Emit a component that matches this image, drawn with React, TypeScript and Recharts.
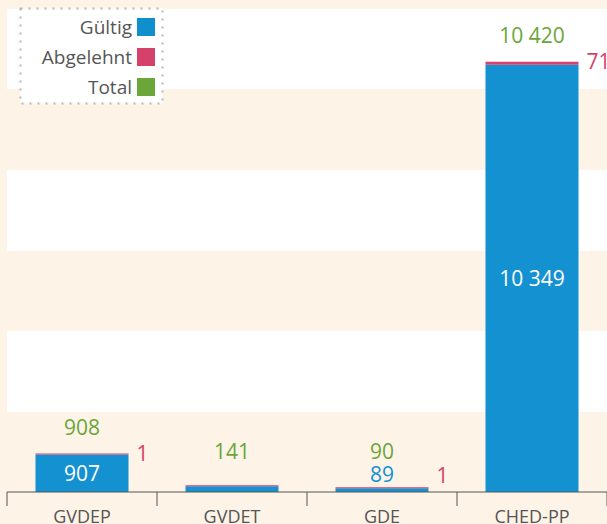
import React from 'react';
import { BarChart, Bar, XAxis, YAxis, CartesianGrid, LabelList } from 'recharts';

const categories = ['GVDEP', 'GVDET', 'GDE', 'CHED-PP'];
const gueltig = [907, 141, 89, 10349];
const abgelehnt = [1, 0, 1, 71];
const total = [908, 141, 90, 10420];
const yTicks = [0, 1950, 3900, 5850, 7800, 9750, 11700];

const legendNames = ['Gültig', 'Abgelehnt', 'Total'];
const legendColors = ['#0f8fcb', '#d4416a', '#6aa63a'];

const BLUE = '#1391d1';
const RED = '#d4416a';
const GREEN = '#6aa63a';
const GREY = '#555555';
const CREAM = '#fdf3e7';
const FONT = '"Open Sans", "Noto Sans", sans-serif';

const W = 607;
const H = 524;
const LEFT = 7;
const BAND = (W - LEFT) / categories.length;

const data = categories.map((name, i) => ({
  name,
  gueltig: gueltig[i],
  abgelehnt: abgelehnt[i],
  total: total[i],
}));

const fmt = (n: number) => String(n).replace(/\B(?=(\d{3})+(?!\d))/g, ' ');

// all value labels for one column, placed from the Gültig segment's rect
const BarLabels = (props: any) => {
  const vb = props.viewBox || props;
  const { x, y, width, height } = vb;
  const i = props.index;
  const base = y + height;
  const redPx = abgelehnt[i] > 0 ? Math.max(1, (height * abgelehnt[i]) / gueltig[i]) : 0;
  const top = y - redPx;
  const cx = x + width / 2;
  const inside = height > 30;
  const showParts = abgelehnt[i] > 0;
  return (
    <g style={{ fontFamily: FONT, fontSize: 21 }}>
      {showParts && (
        <text
          x={cx}
          y={inside ? y + height / 2 : base - 18}
          fill={inside ? '#ffffff' : BLUE}
          textAnchor="middle"
          dominantBaseline="central"
        >
          {fmt(gueltig[i])}
        </text>
      )}
      <text x={cx} y={Math.min(top - 27, base - 41)} fill={GREEN} textAnchor="middle" dominantBaseline="central">
        {fmt(total[i])}
      </text>
      {showParts && (
        <text x={x + width + 8} y={Math.min(top - 1, base - 17)} fill={RED} textAnchor="start" dominantBaseline="central">
          {fmt(abgelehnt[i])}
        </text>
      )}
    </g>
  );
};

const CategoryTick = (props: any) => {
  const { x, y, payload, index } = props;
  const left = x - BAND / 2;
  return (
    <g>
      <line x1={left} y1={y} x2={left} y2={y + 14} stroke={GREY} strokeWidth={1} />
      {index === categories.length - 1 && (
        <line x1={x + BAND / 2} y1={y} x2={x + BAND / 2} y2={y + 14} stroke={GREY} strokeWidth={1} />
      )}
      <text x={x} y={y + 31} fill={GREY} textAnchor="middle" style={{ fontFamily: FONT, fontSize: 18 }}>
        {payload.value}
      </text>
    </g>
  );
};

const LegendBox = () => (
  <svg width={150} height={100} style={{ position: 'absolute', left: 18, top: 6 }}>
    <rect x={2.5} y={2.5} width={142} height={95} fill="#ffffff" stroke="#b8b8b8" strokeWidth={2} strokeDasharray="2 6" />
    {legendNames.map((name, i) => (
      <g key={name}>
        <text
          x={114}
          y={21 + i * 30}
          fill={GREY}
          textAnchor="end"
          dominantBaseline="central"
          style={{ fontFamily: FONT, fontSize: 19 }}
        >
          {name}
        </text>
        <rect x={119} y={12 + i * 30} width={18} height={18} fill={legendColors[i]} />
      </g>
    ))}
  </svg>
);

export default function App() {
  return (
    <div
      style={{
        position: 'absolute',
        left: 0,
        top: 0,
        width: W,
        height: H,
        background: CREAM,
        overflow: 'hidden',
      }}
    >
      <BarChart width={W} height={H} data={data} margin={{ top: 9, right: 0, left: LEFT, bottom: 0 }} barCategoryGap="19%">
        <CartesianGrid horizontalFill={['#ffffff', CREAM]} stroke="none" vertical={false} />
        <YAxis hide domain={[0, 11700]} ticks={yTicks} />
        <XAxis
          dataKey="name"
          height={32}
          tickLine={false}
          tickSize={0}
          tickMargin={0}
          axisLine={{ stroke: GREY, strokeWidth: 1 }}
          tick={<CategoryTick />}
          interval={0}
        />
        <Bar dataKey="gueltig" stackId="a" fill={BLUE} isAnimationActive={false}>
          <LabelList dataKey="gueltig" content={<BarLabels />} />
        </Bar>
        <Bar
          dataKey="abgelehnt"
          stackId="a"
          fill={RED}
          isAnimationActive={false}
          minPointSize={(v: number) => (v > 0 ? 1 : 0)}
        />
      </BarChart>
      <LegendBox />
    </div>
  );
}
